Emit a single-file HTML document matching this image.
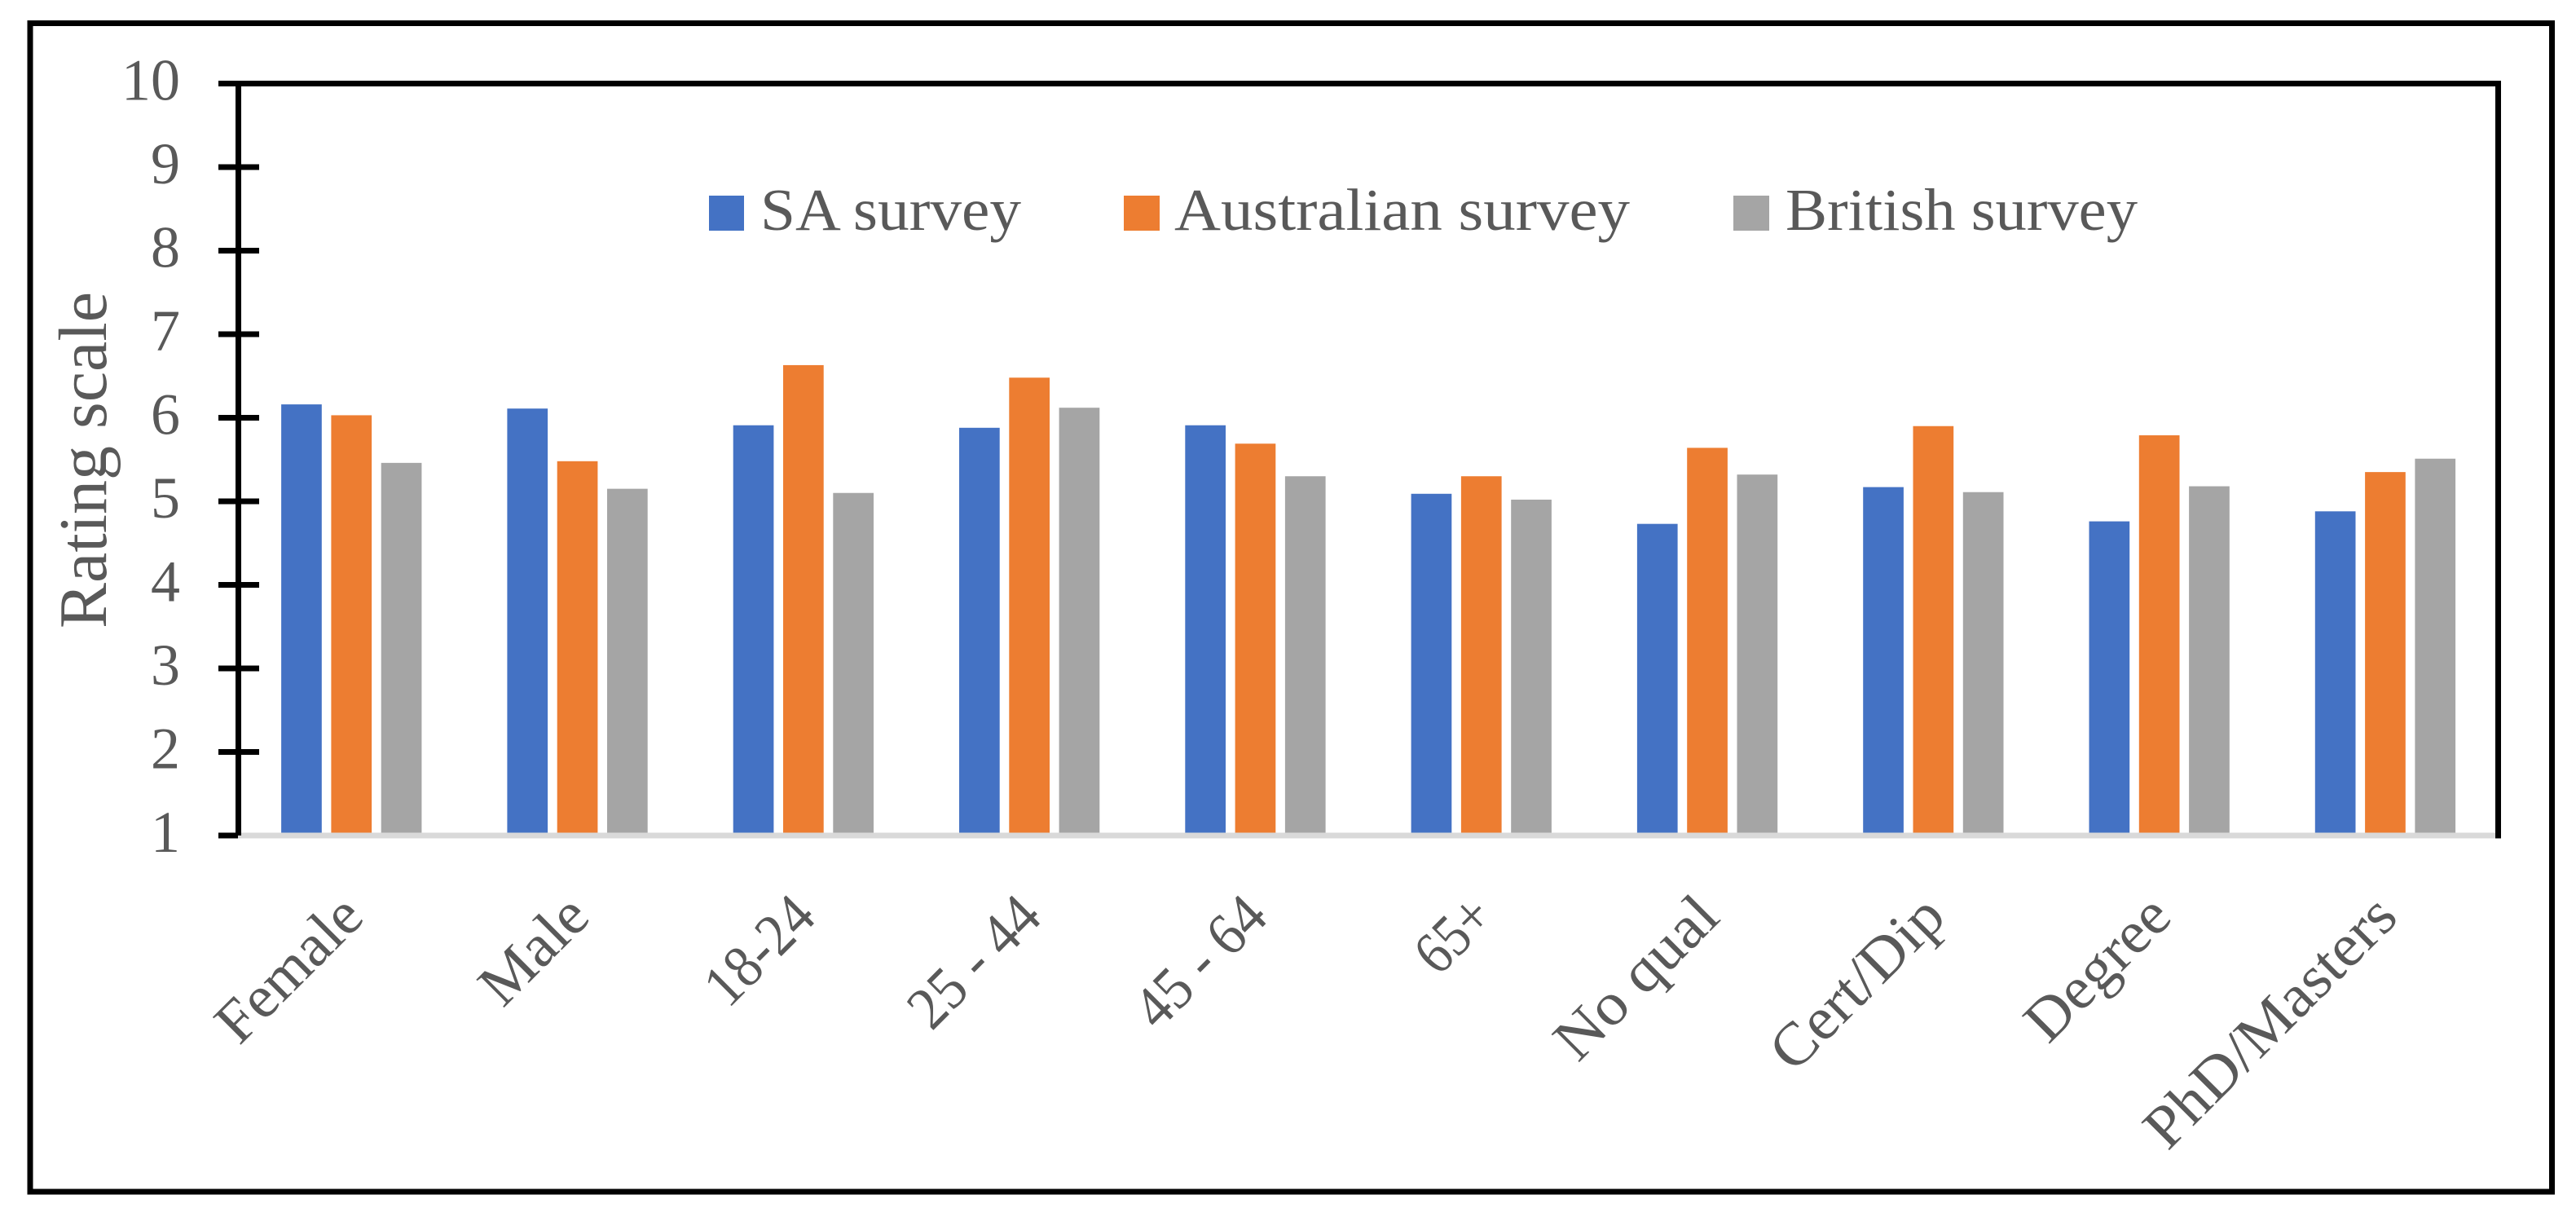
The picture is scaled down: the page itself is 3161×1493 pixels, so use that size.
<!DOCTYPE html>
<html lang="en">
<head>
<meta charset="utf-8">
<title>Rating scale by demographic group</title>
<style>
html,body{margin:0;padding:0;background:#fff;}
svg{display:block;}
text{font-family:"Liberation Serif",serif;fill:#595959;}
</style>
</head>
<body>
<svg id="chart" xmlns="http://www.w3.org/2000/svg" width="3161" height="1493" viewBox="0 0 3161 1493">
  <rect x="0" y="0" width="3161" height="1493" fill="#ffffff"/>
  <rect x="37" y="28.5" width="3094.5" height="1433.5" fill="none" stroke="#000" stroke-width="7"/>
  <g id="bars"></g>
  <g id="axes"></g>
  <g id="y-labels"></g>
  <g id="x-labels"></g>
  <text transform="translate(130,771) rotate(-90)" font-size="84" textLength="413" lengthAdjust="spacingAndGlyphs">Rating scale</text>
  <g>
    <g>
      <rect x="870" y="240" width="43" height="43" fill="#4472C4"/>
      <text x="933" y="282" font-size="73" textLength="320" lengthAdjust="spacingAndGlyphs">SA survey</text>
    </g>
    <g>
      <rect x="1379" y="240" width="44" height="43" fill="#ED7D31"/>
      <text x="1441" y="282" font-size="73" textLength="559" lengthAdjust="spacingAndGlyphs">Australian survey</text>
    </g>
    <g>
      <rect x="2127" y="240" width="44" height="43" fill="#A5A5A5"/>
      <text x="2191" y="282" font-size="73" textLength="432" lengthAdjust="spacingAndGlyphs">British survey</text>
    </g>
  </g>
</svg>
<script>
const categories = ["Female","Male","18-24","25 - 44","45 - 64","65+","No qual","Cert/Dip","Degree","PhD/Masters"];
const saSurvey = [6.16,6.11,5.91,5.88,5.91,5.09,4.73,5.17,4.76,4.88];
const australianSurvey = [6.03,5.48,6.63,6.48,5.69,5.30,5.64,5.90,5.79,5.35];
const britishSurvey = [5.46,5.15,5.10,6.12,5.30,5.02,5.32,5.11,5.18,5.51];
const yTicks = [1,2,3,4,5,6,7,8,9,10];

const NS = "http://www.w3.org/2000/svg";
const plot = {left:292.6, right:3065.6, yAt1:1025, step:102.5};
const seriesStyles = [
  {key:"sa-survey", values:saSurvey, fill:"#4472C4", offset:-61.3},
  {key:"australian-survey", values:australianSurvey, fill:"#ED7D31", offset:0},
  {key:"british-survey", values:britishSurvey, fill:"#A5A5A5", offset:61.3}
];
const labelFit = {"Female":220,"Male":155,"18-24":156,"25 - 44":195,"45 - 64":195,"65+":100,"No qual":250,"Cert/Dip":268,"Degree":218,"PhD/Masters":403};
const BAR_W = 49.7;

function yScale(v){ return plot.yAt1 - (v - yTicks[0]) * plot.step; }
function xBand(i){ return plot.left + (plot.right - plot.left) / categories.length * (i + 0.5); }
function make(tag, attrs){
  const el = document.createElementNS(NS, tag);
  for (const k in attrs) el.setAttribute(k, attrs[k]);
  return el;
}

const barsG = document.getElementById("bars");
seriesStyles.forEach(function(s){
  s.values.forEach(function(v, i){
    const top = yScale(v);
    const bar = make("rect", {x:xBand(i)+s.offset-BAR_W/2, y:top, width:BAR_W, height:yScale(yTicks[0])-top, fill:s.fill});
    
    
    barsG.appendChild(bar);
  });
});

const axesG = document.getElementById("axes");
const baseY = yScale(yTicks[0]);
const topY = yScale(yTicks[yTicks.length-1]);

const xAxis = make("line", {x1:292, y1:baseY, x2:3066, y2:baseY, stroke:"#D9D9D9", "stroke-width":7});


axesG.appendChild(xAxis);

const yAxis = make("line", {x1:292.5, y1:topY, x2:292.5, y2:baseY, stroke:"#000", "stroke-width":7});


axesG.appendChild(yAxis);

const plotRight = make("line", {x1:3065.5, y1:topY-3.5, x2:3065.5, y2:baseY+3.5, stroke:"#000", "stroke-width":7});


axesG.appendChild(plotRight);

const yLabelsG = document.getElementById("y-labels");
yTicks.forEach(function(t, i){
  const y = yScale(t);
  const isLast = i === yTicks.length - 1;
  const x2 = i === 0 ? 292 : (isLast ? 3069 : 318);
  const tick = make("line", {x1:268, y1:y, x2:x2, y2:y, stroke:"#000", "stroke-width":7});
  
  
  axesG.appendChild(tick);

  const label = make("text", {x:221, y:y+20, "text-anchor":"end", "font-size":72});
  
  
  label.textContent = t;
  yLabelsG.appendChild(label);
});

const xLabelsG = document.getElementById("x-labels");
categories.forEach(function(c, i){
  const ex = xBand(i) + 18;
  const attrs = {transform:"translate(" + ex + ",1128) rotate(-45)", "text-anchor":"end", "font-size":74};
  if (labelFit[c]) { attrs.textLength = labelFit[c]; attrs.lengthAdjust = "spacingAndGlyphs"; }
  const label = make("text", attrs);
  
  
  label.textContent = c;
  xLabelsG.appendChild(label);
});
</script>
</body>
</html>
